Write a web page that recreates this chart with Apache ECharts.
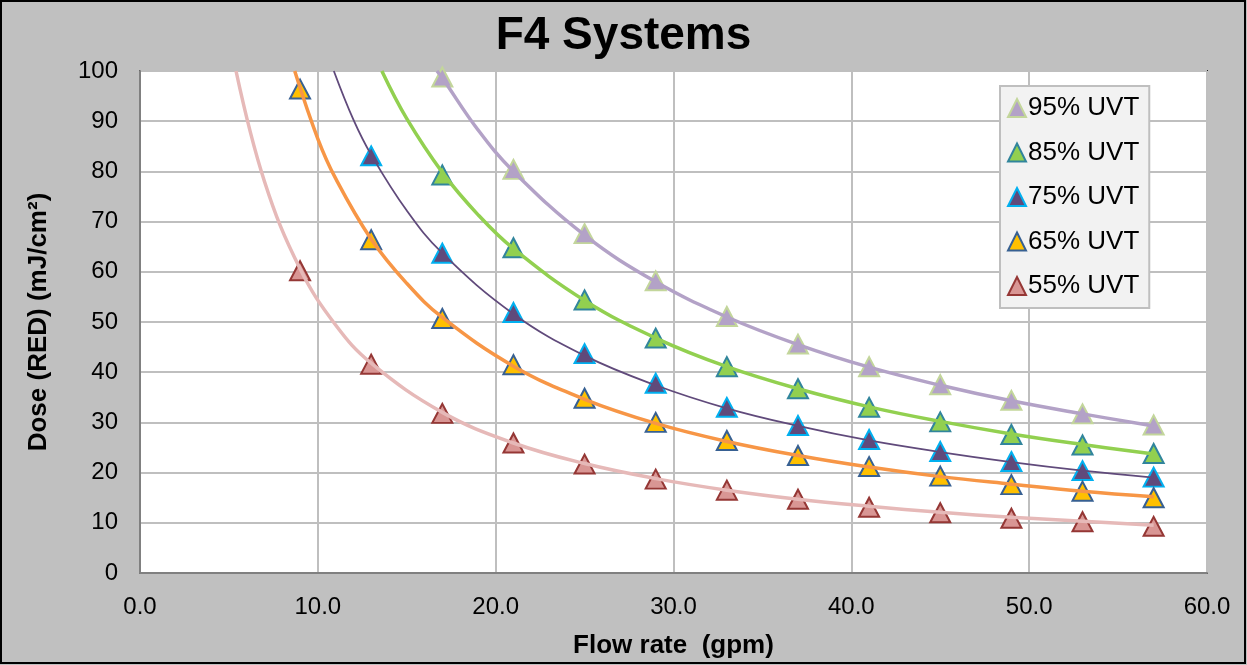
<!DOCTYPE html>
<html lang="en">
<head>
	<meta charset="UTF-8">
	<title>F4 Systems</title>
	<style>
       body{ margin: 0; }
       #main{ width: 1247px; height: 665px; }
	</style>
	<script type="text/javascript" src="https://cdn.jsdelivr.net/npm/echarts@6/dist/echarts.min.js"></script>
</head>
<body>
	<div id="main"></div>
	<script type="text/javascript">
      // flow rate (gpm) for measured points
      var flow = [9, 13, 17, 21, 25, 29, 33, 37, 41, 45, 49, 53, 57];

      // measured dose (mJ/cm2), null = no point
      var uvt55 = [60.2, 41.6, 31.8, 25.9, 21.7, 18.7, 16.5, 14.7, 13.1, 12.0, 10.9, 10.2, 9.3];
      var uvt65 = [96.4, 66.4, 50.7, 41.5, 34.8, 30.0, 26.4, 23.4, 21.2, 19.3, 17.6, 16.3, 15.0];
      var uvt75 = [null, 83.1, 63.7, 51.9, 43.7, 37.8, 33.0, 29.4, 26.6, 24.2, 22.2, 20.4, 19.1];
      var uvt85 = [null, null, 79.3, 64.8, 54.4, 46.8, 41.1, 36.7, 33.0, 30.1, 27.6, 25.5, 23.8];
      var uvt95 = [null, null, 98.8, 80.4, 67.6, 58.2, 51.1, 45.6, 41.1, 37.5, 34.4, 31.7, 29.5];

      // trend lines: [flow, dose]
      var trend55 = [[5.4, 100], [7, 78], [9, 60.6], [11, 49.4], [13, 41.8], [17, 32.0], [21, 25.9], [25, 21.8], [29, 18.8], [33, 16.5], [37, 14.7], [41, 13.3], [45, 12.1], [49, 11.1], [53, 10.3], [57, 9.5]];
      var trend65 = [[8.7, 100], [10, 86.5], [11, 78.6], [13, 66.5], [15, 57.7], [17, 50.9], [21, 41.2], [25, 34.6], [29, 29.8], [33, 26.2], [37, 23.4], [41, 21.1], [45, 19.2], [49, 17.7], [53, 16.3], [57, 15.2]];
      var trend75 = [[10.9, 100], [12, 90.3], [13, 83.3], [15, 72.2], [17, 63.7], [21, 51.6], [25, 43.3], [29, 37.4], [33, 32.8], [37, 29.3], [41, 26.4], [45, 24.1], [49, 22.1], [53, 20.4], [57, 19.0]];
      var trend85 = [[13.6, 100], [15, 90.5], [17, 79.8], [19, 71.4], [21, 64.6], [25, 54.3], [29, 46.8], [33, 41.1], [37, 36.7], [41, 33.1], [45, 30.2], [49, 27.7], [53, 25.6], [57, 23.7]];
      var trend95 = [[16.7, 100], [17, 98.6], [19, 88.3], [21, 80.0], [25, 67.3], [29, 58.0], [33, 51.0], [37, 45.5], [41, 41.0], [45, 37.4], [49, 34.3], [53, 31.7], [57, 29.3]];

      var xTicks = [0, 10, 20, 30, 40, 50, 60];
      var yTicks = [0, 10, 20, 30, 40, 50, 60, 70, 80, 90, 100];

      var pairs = function(ys){
        var out = [];
        for (var i = 0; i < flow.length; i++) {
          if (ys[i] != null) out.push([flow[i], ys[i]]);
        }
        return out;
      };

      var markerSeries = function(name, ys, fill, edge){
        return {
          name: name,
          type: 'scatter',
          symbol: 'triangle',
          symbolSize: [20, 19],
          z: 3,
          itemStyle: { color: fill, borderColor: edge, borderWidth: 2, opacity: 1 },
          data: pairs(ys)
        };
      };

      var trendSeries = function(name, pts, color, width){
        return {
          name: name + ' trend',
          type: 'line',
          smooth: 0.4,
          showSymbol: false,
          silent: true,
          z: 4,
          lineStyle: { color: color, width: width },
          data: pts
        };
      };

      var chart = echarts.init(document.getElementById('main'));
      var option = {
        backgroundColor: '#c0c0c0',
        animation: false,
        textStyle: { fontFamily: 'Liberation Sans, Arial, sans-serif' },
        title: {
          text: 'F4 Systems',
          left: 'center',
          top: 8,
          textStyle: { fontSize: 46, fontWeight: 'bold', color: '#000' }
        },
        graphic: [{
          type: 'rect',
          shape: { x: 1, y: 1, width: 1244, height: 662 },
          style: { fill: 'none', stroke: '#000', lineWidth: 2 },
          silent: true
        }],
        grid: {
          left: 140, right: 40, top: 71, bottom: 92,
          show: true,
          backgroundColor: '#fff',
          borderColor: '#222',
          borderWidth: 2
        },
        legend: {
          orient: 'vertical',
          left: 1000,
          top: 86,
          data: ['95% UVT', '85% UVT', '75% UVT', '65% UVT', '55% UVT'],
          icon: 'triangle',
          itemWidth: 18,
          itemHeight: 18,
          itemGap: 18.5,
          padding: [9, 10, 9, 7],
          backgroundColor: '#f2f2f2',
          borderColor: '#bfbfbf',
          borderWidth: 2,
          textStyle: { fontSize: 26, lineHeight: 26, color: '#000', padding: [0, 0, 0, -3] }
        },
        xAxis: {
          type: 'value',
          min: xTicks[0],
          max: xTicks[xTicks.length - 1],
          interval: 10,
          name: 'Flow rate  (gpm)',
          nameLocation: 'middle',
          nameGap: 60,
          nameTextStyle: { fontSize: 26, fontWeight: 'bold', color: '#000' },
          axisLine: { show: true, lineStyle: { color: '#808080', width: 2 } },
          axisTick: { show: false },
          axisLabel: {
            fontSize: 24, color: '#000', margin: 22,
            formatter: function(v){ return v.toFixed(1); }
          },
          splitLine: { show: true, lineStyle: { color: '#bfbfbf', width: 2 } }
        },
        yAxis: {
          type: 'value',
          min: yTicks[0],
          max: yTicks[yTicks.length - 1],
          interval: 10,
          name: 'Dose (RED) (mJ/cm²)',
          nameLocation: 'middle',
          nameGap: 88,
          nameTextStyle: { fontSize: 26, fontWeight: 'bold', color: '#000' },
          axisLine: { show: true, lineStyle: { color: '#808080', width: 2 } },
          axisTick: { show: false },
          axisLabel: { fontSize: 24, color: '#000', margin: 22 },
          splitLine: { show: true, lineStyle: { color: '#bfbfbf', width: 2 } }
        },
        series: [
          markerSeries('95% UVT', uvt95, '#b3a2c7', '#c3d69b'),
          markerSeries('85% UVT', uvt85, '#92d050', '#31859c'),
          markerSeries('75% UVT', uvt75, '#604a7b', '#00b0f0'),
          markerSeries('65% UVT', uvt65, '#ffc000', '#376092'),
          markerSeries('55% UVT', uvt55, '#d99694', '#953735'),
          trendSeries('95% UVT', trend95, '#b3a2c7', 3.5),
          trendSeries('85% UVT', trend85, '#92d050', 3.5),
          trendSeries('75% UVT', trend75, '#604a7b', 1.8),
          trendSeries('65% UVT', trend65, '#f79646', 3.5),
          trendSeries('55% UVT', trend55, '#e6b9b8', 3.5)
        ]
      };
      chart.setOption(option);
	</script>
</body>
</html>
